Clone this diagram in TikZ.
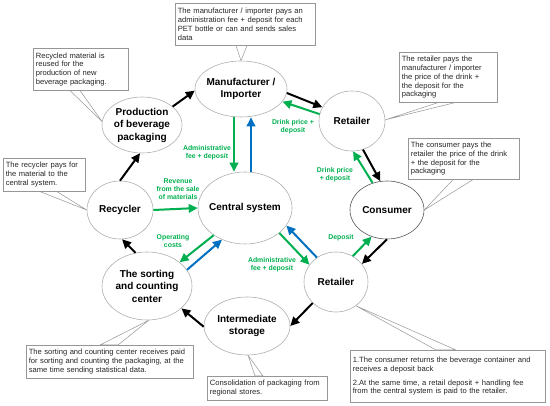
\documentclass[tikz,border=0pt]{standalone}
\usepackage{fontspec}
\setmainfont{Liberation Sans}
\usetikzlibrary{shapes.geometric,arrows.meta,calc}
\definecolor{grn}{RGB}{0,176,80}
\definecolor{blu}{RGB}{0,112,192}
\definecolor{edgegray}{RGB}{175,175,175}
\definecolor{boxgray}{RGB}{150,150,150}
\pgfdeclarelayer{bg}
\pgfsetlayers{bg,main}
\begin{document}
\begin{tikzpicture}[x=1pt,y=-1pt,
  el/.style={ellipse, draw=edgegray, fill=white, line width=0.6pt, inner xsep=-10pt, inner ysep=0pt,
    font=\fontsize{10}{12.5}\selectfont\bfseries, align=center},
  note/.style={draw=boxgray, fill=white, line width=0.6pt, anchor=north west, inner xsep=2.5pt, inner ysep=3pt,
    font=\fontsize{7.6}{8.8}\selectfont, align=left, text=black!85},
  tail/.style={draw=boxgray, fill=white, line width=0.5pt},
  blk/.style={line width=2pt, -{Triangle[length=9pt,width=8.5pt]}},
  garr/.style={blk, draw=grn, fill=grn},
  barr/.style={blk, draw=blu, fill=blu},
  lab/.style={text=grn, font=\fontsize{6.9}{7.8}\selectfont\bfseries, align=center, inner sep=0pt}
]
\useasboundingbox (0,0) rectangle (550,406);

% ellipses
\node[el, minimum width=92pt, minimum height=56pt] (man) at (241,89) {Manufacturer /\\Importer};
\node[el, minimum width=66pt, minimum height=60pt] (ret1) at (352,121) {Retailer};
\node[el, draw=black!65, minimum width=74pt, minimum height=58pt] (con) at (387,210) {Consumer};
\node[el, minimum width=64pt, minimum height=60pt] (ret2) at (336,282) {Retailer};
\node[el, minimum width=94pt, minimum height=72pt] (cen) at (245,208) {Central system};
\node[el, minimum width=66pt, minimum height=58pt] (rec) at (120,210) {Recycler};
\node[el, minimum width=80pt, minimum height=56pt] (prod) at (142,125) {Production\\of beverage\\packaging};
\node[el, minimum width=90pt, minimum height=68pt] (sort) at (147,286) {The sorting\\and counting\\center};
\node[el, minimum width=86pt, minimum height=58pt] (inter) at (247,326) {Intermediate\\storage};

% callout boxes
\node[note, text width=135pt, minimum height=42pt] (b1) at (175,3)
  {The manufacturer / importer pays an\\administration fee + deposit for each\\PET bottle or can and sends sales\\data};
\node[note, text width=90pt, minimum height=42pt] (b2) at (33,48)
  {Recycled material is\\reused for the\\production of new\\beverage packaging.};
\node[note, text width=93pt, minimum height=50pt] (b3) at (399,52)
  {The retailer pays the\\manufacturer / importer\\the price of the drink +\\the deposit for the\\packaging};
\node[note, text width=106pt, minimum height=41pt] (b4) at (408,138)
  {The consumer pays the\\retailer the price of the drink\\+ the deposit for the\\packaging};
\node[note, text width=77pt, minimum height=33pt] (b5) at (3,158)
  {The recycler pays for\\the material to the\\central system.};
\node[note, text width=162pt, minimum height=33pt] (b6) at (26,345)
  {The sorting and counting center receives paid\\for sorting and counting the packaging, at the\\same time sending statistical data.};
\node[note, text width=115pt, minimum height=24pt] (b7) at (207,376)
  {Consolidation of packaging from\\regional stores.};
\node[note, text width=190pt, minimum height=52pt] (b8) at (350,350)
  {1.The consumer returns the beverage container and\\receives a deposit back\\[5pt]2.At the same time, a retail deposit + handling fee\\from the central system is paid to the retailer.};

% callout tails, behind everything
\begin{pgfonlayer}{bg}
\path[tail] ([xshift=61pt]b1.south west) -- (man.north) -- ([xshift=72pt]b1.south west) -- cycle;
\path[tail] ([xshift=37pt]b2.south west) -- (prod.175) -- ([xshift=47pt]b2.south west) -- cycle;
\path[tail] ([xshift=39pt]b3.south west) -- (ret1.2) -- ([xshift=56pt]b3.south west) -- cycle;
\path[tail] ([xshift=45pt]b4.south west) -- (con.east) -- ([xshift=65pt]b4.south west) -- cycle;
\path[tail] ([xshift=37pt]b5.south west) -- (rec.west) -- ([xshift=54pt]b5.south west) -- cycle;
\path[tail] ([xshift=74pt]b6.north west) -- (sort.-87) -- ([xshift=92pt]b6.north west) -- cycle;
\path[tail] ([xshift=48pt]b7.north west) -- (inter.-88) -- ([xshift=56pt]b7.north west) -- cycle;
\path[tail] ([xshift=86pt]b8.north west) -- (ret2.-50) -- ([xshift=106pt]b8.north west) -- cycle;
\end{pgfonlayer}

% black flow arrows
\draw[blk] (prod.31) -- (man.182);
\draw[blk] (man.-5) -- (ret1.155);
\draw[blk] (ret1.-69) -- (con.103);
\draw[blk] (con.south) -- (ret2.35);
\draw[blk] (ret2.222) -- (inter.east);
\draw[blk] (inter.181) -- (sort.-33);
\draw[blk] (sort.109) -- (rec.-86);
\draw[blk] (rec.north) -- (prod.-94);

% green and blue money / data arrows
\draw[garr] ([xshift=-7pt]man.south) -- ([xshift=-11pt]cen.north);
\draw[barr] ([xshift=6pt]cen.north) -- ([xshift=10pt]man.south);
\draw[garr] (ret1.168) -- (man.-17);
\draw[garr] (con.118) -- (ret1.-88);
\draw[garr] (rec.east) -- (cen.west);
\draw[garr] (cen.221) -- (sort.36);
\draw[barr] (sort.22) -- (cen.234);
\draw[garr] (cen.-36) -- (ret2.147);
\draw[barr] (ret2.128) -- (cen.-23);
\draw[garr] (ret2.57) -- (con.240);

% arrow labels
\node[lab] (l1) at (207,153) {Administrative\\fee + deposit};
\node[lab] (l2) at (293,127) {Drink price +\\deposit};
\node[lab] (l3) at (335,175) {Drink price\\+ deposit};
\node[lab] (l4) at (178,189) {Revenue\\from the sale\\of materials};
\node[lab] (l5) at (173,241) {Operating\\costs};
\node[lab] (l6) at (272,265) {Administrative\\fee + deposit};
\node[lab] (l7) at (341,238) {Deposit};
\end{tikzpicture}
\end{document}
